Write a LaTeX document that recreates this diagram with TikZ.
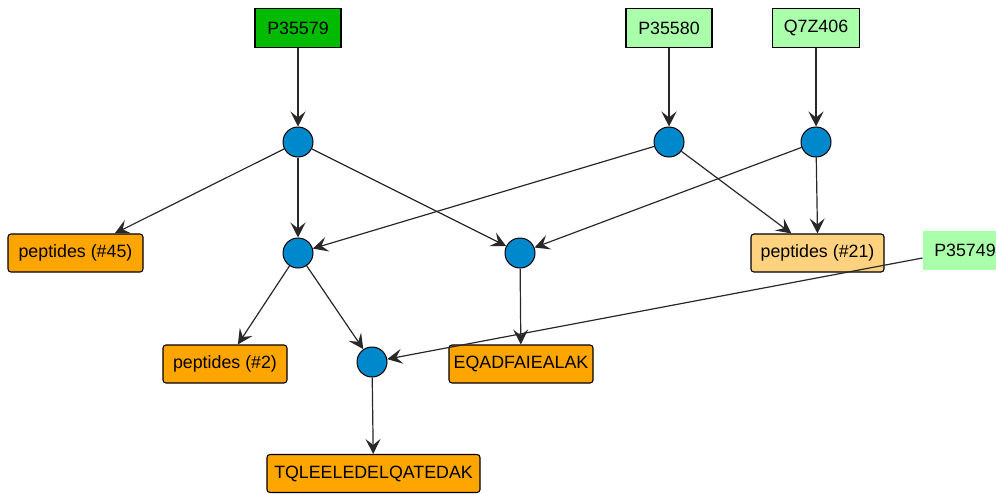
\documentclass[tikz,border=0pt]{standalone}
\usepackage{fontspec}
\setmainfont{Liberation Sans}
\usetikzlibrary{arrows.meta}
\definecolor{dkgreen}{RGB}{0,187,0}
\definecolor{ltgreen}{RGB}{170,255,170}
\definecolor{orng}{RGB}{255,165,0}
\definecolor{ltorng}{RGB}{255,210,128}
\definecolor{dotblue}{RGB}{0,136,204}
\definecolor{edgegray}{RGB}{40,40,40}
\tikzset{
  prot/.style={draw=black, line width=1.1pt, minimum height=39pt, inner sep=0pt, font=\fontsize{17.8}{21}\selectfont},
  pep/.style={draw=black, line width=1.1pt, rounded corners=3pt, minimum height=38pt, inner sep=0pt, fill=orng, font=\fontsize{17.8}{21}\selectfont},
  dot/.style={circle, draw=black, line width=1pt, fill=dotblue, minimum size=30pt, inner sep=0pt},
  link/.style={draw=edgegray, line width=1.2pt, -{Stealth[length=15pt,width=15pt,inset=6pt]}},
}
\begin{document}
\begin{tikzpicture}[x=1pt,y=-1pt]
\useasboundingbox (0,0) rectangle (996,493);
\clip (0,0) rectangle (996,493);
% proteins
\node[prot, fill=dkgreen, minimum width=86pt] (p79) at (298,28) {P35579};
\node[prot, fill=ltgreen, minimum width=86pt] (p80) at (669,28) {P35580};
\node[prot, fill=ltgreen, minimum width=87pt] (q7z) at (816,28) {Q7Z406};
\node[prot, draw=none, fill=ltgreen, minimum width=84pt] (p49) at (965,250) {P35749};
% dots
\node[dot] (c1) at (298,142) {};
\node[dot] (c2) at (669,142) {};
\node[dot] (c3) at (816,142) {};
\node[dot] (c4) at (298,253) {};
\node[dot] (c5) at (520,253) {};
\node[dot] (c6) at (372,362) {};
% peptides
\node[pep, minimum width=135pt] (g45) at (75.5,253) {peptides (\#45)};
\node[pep, fill=ltorng, minimum width=133pt] (g21) at (817.5,253) {peptides (\#21)};
\node[pep, minimum width=124pt] (g2) at (225,364) {peptides (\#2)};
\node[pep, minimum width=144pt] (eq) at (521,364) {EQADFAIEALAK};
\node[pep, minimum width=213pt] (tq) at (373.5,473.5) {TQLEELEDELQATEDAK};
% edges
\draw[link] (p79) -- (c1);
\draw[link] (p80) -- (c2);
\draw[link] (q7z) -- (c3);
\draw[link] (c1) -- (g45);
\draw[link] (c1) -- (c4);
\draw[link] (c1) -- (c5);
\draw[link] (c2) -- (c4);
\draw[link] (c2) -- (g21);
\draw[link] (c3) -- (c5);
\draw[link] (c3) -- (g21.north);
\draw[link] (c4) -- (g2);
\draw[link] (c4) -- (c6);
\draw[link] (c5) -- (eq);
\draw[link] (p49) -- (c6);
\draw[link] (c6) -- (tq);
\end{tikzpicture}
\end{document}
